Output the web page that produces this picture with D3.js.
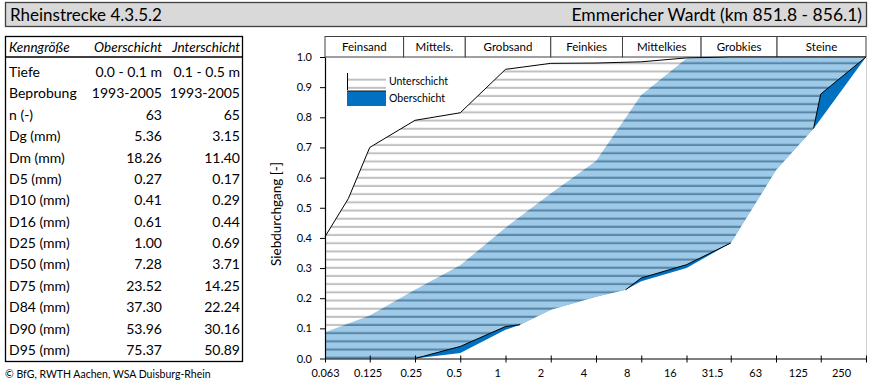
<!DOCTYPE html>
<html><head><meta charset="utf-8">
<script src="https://cdn.jsdelivr.net/npm/d3@7"></script>
<style>body{margin:0;background:#fff} svg{display:block} text{font-family:Lato,"Open Sans",sans-serif;fill:#000}</style>
</head><body><svg id="c" width="869" height="385"></svg>
<script>
// ---- data ----
const sizes    = [0.063, 0.09, 0.125, 0.25, 0.5, 1, 1.25, 2, 4, 6.3, 8, 16, 31.5, 63, 112, 125, 250];
const unterMax = [0.404, 0.53, 0.70, 0.79, 0.815, 0.959, null, 0.979, 0.98, null, 0.984, 0.997, 1, 1, null, 1, 1];
const unterMin = [0, null, 0, 0, 0.04, 0.106, 0.112, 0.162, 0.205, 0.228, 0.267, 0.311, 0.383, 0.625, 0.763, 0.877, 1];
const oberMax  = [0.087, null, 0.143, 0.228, 0.309, 0.434, null, 0.547, 0.655, null, 0.874, 0.995, 1, 1, null, 1, 1];
const oberMin  = [0, null, 0, 0, 0.018, 0.095, 0.112, 0.162, 0.205, 0.228, 0.256, 0.30, 0.383, 0.625, 0.763, 0.794, 1];
const xTicks = [0.063, 0.125, 0.25, 0.5, 1, 2, 4, 8, 16, 31.5, 63, 125, 250];
const yTicks = [0, 0.1, 0.2, 0.3, 0.4, 0.5, 0.6, 0.7, 0.8, 0.9, 1.0];
const classNames  = ["Feinsand", "Mittels.", "Grobsand", "Feinkies", "Mittelkies", "Grobkies", "Steine"];
const classBounds = [0.063, 0.21, 0.54, 2, 6, 20, 64, 250];
const tableHead  = ["Kenngröße", "Oberschicht", "Jnterschicht"];
const rowLabels  = ["Tiefe", "Beprobung", "n (-)", "Dg (mm)", "Dm (mm)", "D5 (mm)", "D10 (mm)", "D16 (mm)", "D25 (mm)", "D50 (mm)", "D75 (mm)", "D84 (mm)", "D90 (mm)", "D95 (mm)"];
const oberVals   = ["0.0 - 0.1 m", "1993-2005", "63", "5.36", "18.26", "0.27", "0.41", "0.61", "1.00", "7.28", "23.52", "37.30", "53.96", "75.37"];
const unterVals  = ["0.1 - 0.5 m", "1993-2005", "65", "3.15", "11.40", "0.17", "0.29", "0.44", "0.69", "3.71", "14.25", "22.24", "30.16", "50.89"];
const titleLeft  = "Rheinstrecke 4.3.5.2";
const titleRight = "Emmericher Wardt (km 851.8 - 856.1)";
const legendNames = ["Unterschicht", "Oberschicht"];
const yTitle = "Siebdurchgang [-]";
const credit = "© BfG, RWTH Aachen, WSA Duisburg-Rhein";

// ---- layout ----
const svg = d3.select("#c");
const L = 325, R = 866, T = 57, B = 358.5;
const x = d3.scaleLog().base(2).domain([0.063, 250]).range([L, R]);
// category labels in the original sit on a slightly narrower spacing than the ticks
const xLab = d3.scaleLog().base(2).domain([0.063, 250]).range([L, 841]);
const y = d3.scaleLinear().domain([0, 1]).range([B, T]);
const BLUE = "#0070C0";

const defs = svg.append("defs");
const pat = defs.append("pattern").attr("id", "hatch").attr("patternUnits", "userSpaceOnUse")
  .attr("x", 0).attr("y", 56.1).attr("width", 10).attr("height", 8.18);
pat.append("rect").attr("x", 0).attr("y", 0).attr("width", 10).attr("height", 6.18).attr("fill", "#fff").attr("fill-opacity", 0.62);
pat.append("rect").attr("x", 0).attr("y", 6.18).attr("width", 10).attr("height", 2).attr("fill", "rgb(150,150,150)").attr("fill-opacity", 0.6);

// title bar
svg.append("rect").attr("x", 5.5).attr("y", 2.5).attr("width", 861).attr("height", 24)
  .attr("fill", "#D9D9D9").attr("stroke", "#404040").attr("stroke-width", 1.3);
svg.append("text").attr("x", 10).attr("y", 21).attr("font-size", 17).text(titleLeft);
svg.append("text").attr("x", 862).attr("y", 21).attr("font-size", 17.5).attr("text-anchor", "end").text(titleRight);

// table
const rowY = d3.scaleLinear().domain([0, rowLabels.length - 1]).range([72, 350]);
svg.append("rect").attr("x", 5.5).attr("y", 36.5).attr("width", 237).attr("height", 325)
  .attr("fill", "none").attr("stroke", "#000").attr("stroke-width", 1.3);
svg.append("line").attr("x1", 5.5).attr("x2", 242.5).attr("y1", 57).attr("y2", 57).attr("stroke", "#000").attr("stroke-width", 1.3);
const colX = [9, 162, 240], colAnchor = ["start", "end", "end"];
tableHead.forEach((t, i) => svg.append("text").attr("x", colX[i]).attr("y", 52).attr("font-size", 13.5)
  .attr("font-style", "italic").attr("text-anchor", colAnchor[i]).text(t));
[rowLabels, oberVals, unterVals].forEach((col, ci) => {
  svg.append("g").selectAll("text").data(col).join("text")
    .attr("x", colX[ci]).attr("y", (d, i) => rowY(i) + 5).attr("font-size", 14)
    .attr("text-anchor", colAnchor[ci]).text(d => d);
});
svg.append("text").attr("x", 5).attr("y", 378).attr("font-size", 10.5).attr("fill", "#222").text(credit);

// class header boxes
const cls = svg.append("g");
classNames.forEach((n, i) => {
  const x0 = x(classBounds[i]), x1 = x(classBounds[i + 1]);
  cls.append("rect").attr("x", x0).attr("y", 36.5).attr("width", x1 - x0).attr("height", 20.5)
    .attr("fill", "#fff").attr("stroke", "#404040").attr("stroke-width", 1);
  cls.append("text").attr("x", (x0 + x1) / 2).attr("y", 51).attr("font-size", 11.5)
    .attr("text-anchor", "middle").text(n);
});

// bands
const pts = arr => sizes.map((s, i) => [s, arr[i]]).filter(d => d[1] != null);
const line = d3.line().x(d => x(d[0])).y(d => y(d[1]));
const band = (hi, lo) => line(pts(hi).concat(pts(lo).reverse())) + "Z";
const plot = svg.append("g");
plot.append("path").attr("d", band(oberMax, oberMin)).attr("fill", BLUE);
plot.append("path").attr("d", band(unterMax, unterMin)).attr("fill", "url(#hatch)");
plot.append("path").attr("d", line(pts(unterMax))).attr("fill", "none").attr("stroke", "#000").attr("stroke-width", 1);
// lower edge of Unterschicht drawn where it departs from Oberschicht
const idx = sizes.map((s, i) => i).filter(i => unterMin[i] != null && oberMin[i] != null);
for (let k = 0; k < idx.length - 1; k++) {
  const a = idx[k], b = idx[k + 1];
  if (unterMin[a] > oberMin[a] || unterMin[b] > oberMin[b]) {
    plot.append("path").attr("d", line([[sizes[a], unterMin[a]], [sizes[b], unterMin[b]]]))
      .attr("fill", "none").attr("stroke", "#000").attr("stroke-width", 1);
  }
}

// right border
svg.append("line").attr("x1", R + 0.5).attr("x2", R + 0.5).attr("y1", T).attr("y2", B).attr("stroke", "#D0D0D0");

// axes
const yAxis = svg.append("g").attr("transform", `translate(${L},0)`)
  .call(d3.axisLeft(y).tickValues(yTicks).tickFormat(d3.format(".1f")).tickSize(5).tickSizeOuter(0));
const xAxis = svg.append("g").attr("transform", `translate(0,${B})`)
  .call(d3.axisBottom(x).tickValues(xTicks).tickFormat(d => String(d)).tickSize(4).tickSizeOuter(0));
[yAxis, xAxis].forEach(g => {
  g.select(".domain").attr("stroke", "#000").attr("stroke-width", 1.2);
  g.selectAll(".tick line").attr("stroke", "#000");
  g.selectAll(".tick text").attr("font-size", 11).attr("font-family", "Lato").attr("fill", "#000");
});
xAxis.selectAll(".tick line").attr("y1", -3).attr("y2", 4);
xAxis.selectAll(".tick text").attr("dy", "1.05em").attr("x", d => xLab(d) - x(d));
yAxis.selectAll(".tick text").attr("x", -13);

svg.append("text").attr("transform", `translate(281,214) rotate(-90)`)
  .attr("font-size", 13.5).attr("text-anchor", "middle").text(yTitle);

// legend
const lg = svg.append("g");
lg.append("rect").attr("x", 347).attr("y", 73).attr("width", 39).attr("height", 17).attr("fill", "url(#hatch)");
lg.append("line").attr("x1", 347.5).attr("x2", 347.5).attr("y1", 73).attr("y2", 90).attr("stroke", "#000");
lg.append("rect").attr("x", 347).attr("y", 91).attr("width", 39).attr("height", 15).attr("fill", BLUE);
lg.append("line").attr("x1", 347).attr("x2", 386).attr("y1", 91).attr("y2", 91).attr("stroke", "#1a1a1a").attr("stroke-width", 1.2);
lg.selectAll("text.lgt").data(legendNames).join("text").attr("class", "lgt")
  .attr("x", 389).attr("y", (d, i) => i ? 102 : 84.5).attr("font-size", 10.5).text(d => d);
</script></body></html>
